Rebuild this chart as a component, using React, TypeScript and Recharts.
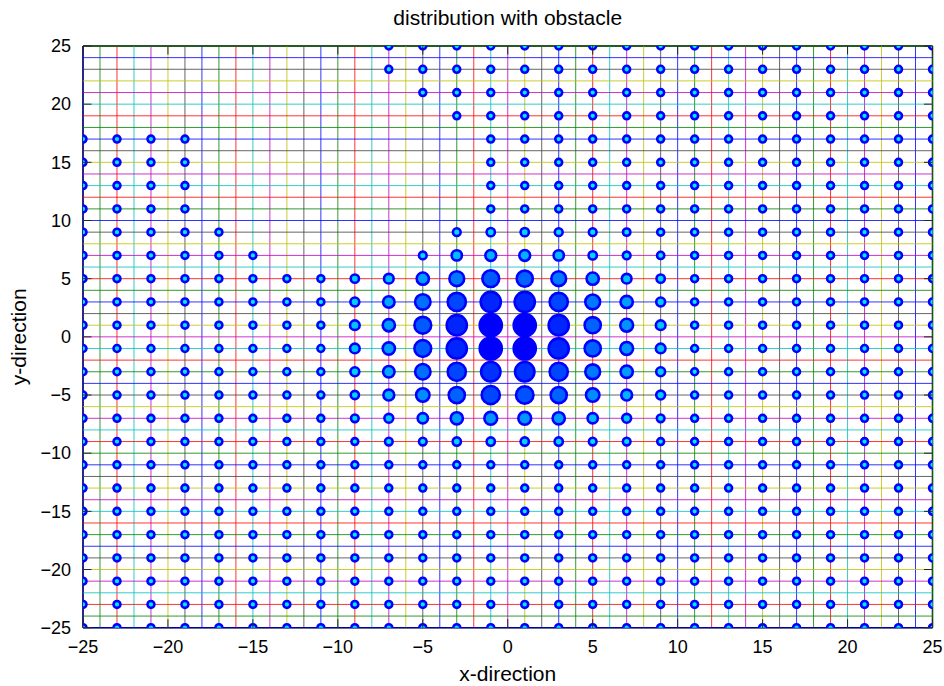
import React from 'react';
import { ScatterChart, Scatter, XAxis, YAxis, ReferenceLine } from 'recharts';

// ---------- data ----------
const X_COORDS = [-25, -23, -21, -19, -17, -15, -13, -11, -9, -7, -5, -3, -1, 1, 3, 5, 7, 9, 11, 13, 15, 17, 19, 21, 23, 25];
const Y_COORDS = [25, 23, 21, 19, 17, 15, 13, 11, 9, 7, 5, 3, 1, -1, -3, -5, -7, -9, -11, -13, -15, -17, -19, -21, -23, -25];
const GRID_LEVELS = [-25, -24, -23, -22, -21, -20, -19, -18, -17, -16, -15, -14, -13, -12, -11, -10, -9, -8, -7, -6, -5, -4, -3, -2, -1, 0, 1, 2, 3, 4, 5, 6, 7, 8, 9, 10, 11, 12, 13, 14, 15, 16, 17, 18, 19, 20, 21, 22, 23, 24, 25];
const LINE_COLORS = ['#0000ff', '#008000', '#ff0000', '#00bfbf', '#bf00bf', '#bfbf00', '#404040'];
const TICKS = [-25, -20, -15, -10, -5, 0, 5, 10, 15, 20, 25];

// obstacle: rows where an x-range has no samples
const OBSTACLE_ROWS = [25, 23, 21, 19, 17, 15, 13, 11, 9, 7];
const OBSTACLE_FROM = [-25, -25, -25, -25, -17, -17, -17, -17, -15, -13];
const OBSTACLE_TO = [-9, -9, -7, -5, -3, -3, -3, -3, -5, -7];

// density (0..100) around the source; everything else is 0
const DENSITY_COLS = [-9, -7, -5, -3, -1, 1, 3, 5, 7, 9];
const DENSITY_ROWS = [9, 7, 5, 3, 1, -1, -3, -5, -7, -9];
const DENSITY = [
  [0, 0, 0, 5, 9, 9, 6, 5, 3, 0],
  [0, 0, 5, 22, 26, 26, 22, 9, 5, 2],
  [9, 18, 35, 52, 65, 61, 52, 35, 18, 9],
  [13, 30, 56, 74, 87, 87, 74, 52, 35, 13],
  [18, 35, 65, 87, 100, 100, 87, 61, 39, 18],
  [18, 35, 65, 87, 100, 100, 87, 61, 39, 18],
  [13, 30, 56, 74, 82, 82, 74, 52, 35, 13],
  [9, 26, 43, 61, 74, 69, 61, 43, 26, 13],
  [5, 13, 22, 35, 39, 39, 35, 22, 13, 5],
  [0, 5, 5, 9, 9, 9, 9, 5, 5, 0],
];

// ---------- layout ----------
const W = 944;
const H = 686;
const PLOT = { left: 83, right: 932.5, top: 46, bottom: 627.7 };
const FONT = '"Liberation Sans", Arial, Helvetica, sans-serif';
const TICK_LEN = 8.5;

function buildPoints() {
  const pts: { x: number; y: number; density: number }[] = [];
  for (const y of Y_COORDS) {
    const oi = OBSTACLE_ROWS.indexOf(y);
    for (const x of X_COORDS) {
      if (oi >= 0 && x >= OBSTACLE_FROM[oi] && x <= OBSTACLE_TO[oi]) continue;
      const ri = DENSITY_ROWS.indexOf(y);
      const ci = DENSITY_COLS.indexOf(x);
      const density = ri >= 0 && ci >= 0 ? DENSITY[ri][ci] : 0;
      pts.push({ x, y, density });
    }
  }
  return pts;
}

const fmt = (v: number) => (v < 0 ? '\u2212' + Math.abs(v) : String(v));

const Marker = (props: any) => {
  const { cx, cy, payload } = props;
  if (cx == null || cy == null) return null;
  const v = (payload?.density ?? 0) / 100;
  const D = 9.5 + v * 15.2;
  const sw = 2.6;
  const r = D / 2 - sw / 2;
  const g = Math.round(232 * Math.pow(1 - v, 0.9));
  return <circle cx={cx} cy={cy} r={r} fill={`rgb(0,${g},255)`} stroke="#0000ff" strokeWidth={sw} />;
};

const XTick = (props: any) => {
  const { x, payload } = props;
  return (
    <g>
      <line x1={x} x2={x} y1={PLOT.bottom} y2={PLOT.bottom - TICK_LEN} stroke="#262626" strokeWidth={1} />
      <line x1={x} x2={x} y1={PLOT.top} y2={PLOT.top + TICK_LEN} stroke="#262626" strokeWidth={1} />
      <text x={x} y={PLOT.bottom + 25.6} textAnchor="middle" fontSize={18} fontFamily={FONT} fill="#000">
        {fmt(payload.value)}
      </text>
    </g>
  );
};

const YTick = (props: any) => {
  const { y, payload } = props;
  return (
    <g>
      <line x1={PLOT.left} x2={PLOT.left + TICK_LEN} y1={y} y2={y} stroke="#262626" strokeWidth={1} />
      <line x1={PLOT.right} x2={PLOT.right - TICK_LEN} y1={y} y2={y} stroke="#262626" strokeWidth={1} />
      <text x={71} y={y + 6.3} textAnchor="end" fontSize={18} fontFamily={FONT} fill="#000">
        {fmt(payload.value)}
      </text>
    </g>
  );
};

export default function App() {
  const data = buildPoints();
  return (
    <div style={{ position: 'absolute', left: 0, top: 0, width: W, height: H, background: '#fff', fontFamily: FONT }}>
      <ScatterChart width={W} height={H} margin={{ top: PLOT.top, right: W - PLOT.right, bottom: 0, left: 0 }}>
        <XAxis
          type="number"
          dataKey="x"
          domain={[-25, 25]}
          ticks={TICKS}
          interval={0}
          allowDataOverflow
          height={H - PLOT.bottom}
          tick={<XTick />}
          tickLine={false}
          axisLine={false}
          label={{ value: 'x-direction', position: 'insideBottom', offset: 5, fontSize: 21, fill: '#000', fontFamily: FONT }}
        />
        <YAxis
          type="number"
          dataKey="y"
          domain={[-25, 25]}
          ticks={TICKS}
          interval={0}
          allowDataOverflow
          width={PLOT.left}
          tick={<YTick />}
          tickLine={false}
          axisLine={false}
          label={{ value: 'y-direction', angle: -90, position: 'insideLeft', offset: 19, fontSize: 21, fill: '#000', fontFamily: FONT, style: { textAnchor: 'middle' } }}
        />
        <ReferenceLine x={-25} stroke="#000" strokeWidth={1.5} />
        <ReferenceLine x={25} stroke="#000" strokeWidth={1.5} />
        <ReferenceLine y={-25} stroke="#000" strokeWidth={1.5} />
        <ReferenceLine y={25} stroke="#000" strokeWidth={1.5} />
        {GRID_LEVELS.map((lv) => (
          <ReferenceLine key={'v' + lv} x={lv} stroke={LINE_COLORS[(lv + 25) % 7]} strokeOpacity={0.8} strokeWidth={1} />
        ))}
        {GRID_LEVELS.map((lv) => (
          <ReferenceLine key={'h' + lv} y={lv} stroke={LINE_COLORS[(lv + 25) % 7]} strokeOpacity={0.8} strokeWidth={1} />
        ))}
        <Scatter data={data} shape={<Marker />} isAnimationActive={false} />
      </ScatterChart>
      <div
        style={{
          position: 'absolute',
          left: PLOT.left,
          width: PLOT.right - PLOT.left,
          top: 7,
          textAlign: 'center',
          fontSize: 21,
          lineHeight: '21px',
          color: '#000',
        }}
      >
        distribution with obstacle
      </div>
    </div>
  );
}
